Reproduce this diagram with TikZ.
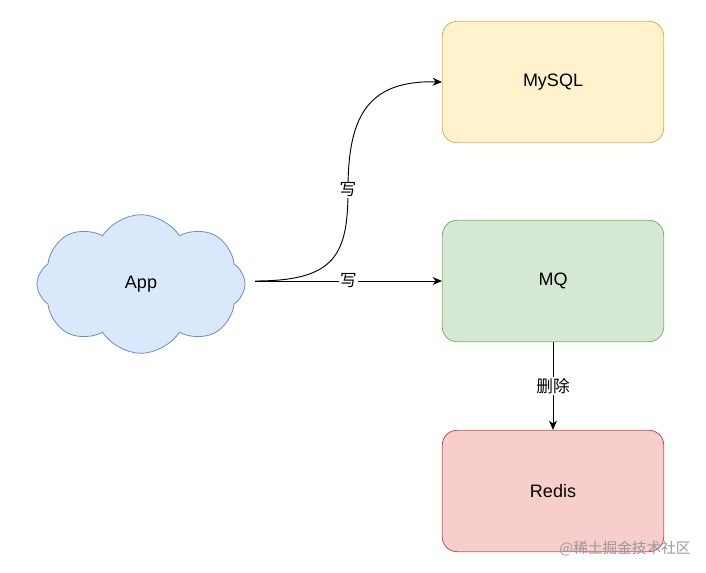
\documentclass[tikz,border=0pt]{standalone}
\usepackage{fontspec}
\setmainfont{Liberation Sans}
\newfontfamily\cjk{Noto Sans CJK SC}
\usetikzlibrary{arrows.meta,shapes.symbols,positioning}
\definecolor{yfill}{HTML}{FFF2CC}
\definecolor{ydraw}{HTML}{D6B656}
\definecolor{gfill}{HTML}{D5E8D4}
\definecolor{gdraw}{HTML}{82B366}
\definecolor{rfill}{HTML}{F8CECC}
\definecolor{rdraw}{HTML}{B85450}
\definecolor{bfill}{HTML}{DAE8FC}
\definecolor{bdraw}{HTML}{6C8EBF}

\begin{document}
\begin{tikzpicture}[x=0.75pt,y=-0.75pt]
\tikzstyle{every node}=[font=\fontsize{13.5}{16}\selectfont]
\tikzstyle{box}=[draw, rounded corners=11pt, minimum width=166pt, minimum height=91pt, line width=0.6pt]
\tikzstyle{lbl}=[fill=white, inner sep=1pt, font=\cjk\fontsize{12.5}{14}\selectfont]
\tikzstyle{link}=[-{Stealth[length=7pt,width=6pt]}, line width=0.7pt]
\useasboundingbox (0,0) rectangle (706,573);

\node[cloud, cloud puffs=8, cloud puff arc=115, aspect=1.5, draw=bdraw, fill=bfill,
      minimum width=156pt, minimum height=104pt, line width=0.6pt] (app) at (141,284) {App};
\node[box, draw=ydraw, fill=yfill] (mysql) at (553,82) {MySQL};
\node[box, draw=gdraw, fill=gfill] (mq) at (553,281) {MQ};
\node[box, draw=rdraw, fill=rfill] (redis) at (553,491) {Redis};
\coordinate (appout) at (255,281);

\draw[link] (appout) .. controls (335,281) and (348,255) .. (348,190)
   node[lbl] {写} .. controls (348,120) and (365,80) .. (mysql.west);
\draw[link] (appout) -- node[lbl, pos=0.5] {写} (mq.west);
\draw[link] (mq) -- node[lbl] {删除} (redis);

\node[text=gray!80, font=\cjk\fontsize{11}{13}\selectfont] (mark) at (625,549) {@稀土掘金技术社区};
\end{tikzpicture}
\end{document}
